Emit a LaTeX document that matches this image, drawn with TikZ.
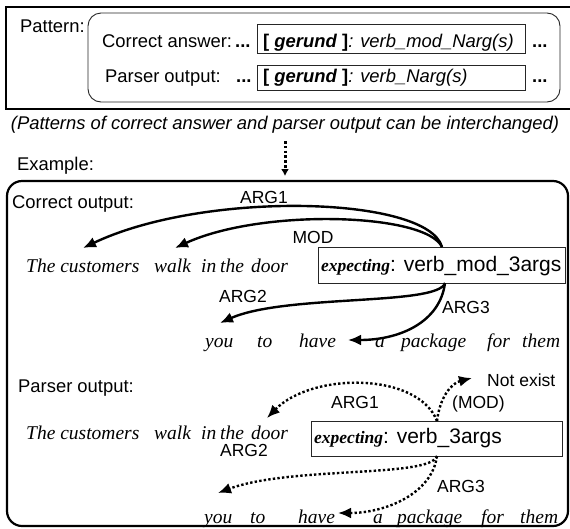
\documentclass[tikz,border=0pt]{standalone}
\usepackage{fontspec}
\setmainfont{Liberation Serif}
\setsansfont{Liberation Sans}
\usetikzlibrary{arrows.meta}
\begin{document}
\begin{tikzpicture}[x=1pt,y=-1pt,
  sf/.style={font=\fontsize{18.4}{20}\selectfont\sffamily, inner sep=0pt, anchor=base west},
  lbl/.style={font=\fontsize{17.5}{20}\selectfont\sffamily, inner sep=0pt, anchor=base},
  wd/.style={font=\fontsize{19.5}{22}\selectfont\itshape, inner sep=0pt, anchor=base west},
  thinbox/.style={draw=black!85, line width=0.9pt, inner sep=0pt, anchor=north west},
  heavy/.style={draw=black, line width=2pt},
  arr/.style={line width=2.4pt, -{Latex[length=13pt,width=11pt]}},
  darr/.style={arr, dash pattern=on 2.4pt off 2.2pt},
]
\useasboundingbox (0,0) rectangle (570,528);

% ---------- Pattern box ----------
\draw[heavy] (571,7) -- (6,7) -- (6,109) -- (571,109);
\draw[draw=black!85, line width=0.9pt, rounded corners=13pt] (88,13) rectangle (560,102);
\node[sf] (pat) at (20,32) {Pattern:};
\node[sf] (ca) at (102,47) {Correct answer:};
\node[sf] (po) at (105,82) {Parser output:};
\node[sf] (d1) at (235,47) {\textbf{...}};
\node[sf] (d2) at (236,82) {\textbf{...}};
\node[sf] (d3) at (532,47) {\textbf{...}};
\node[sf] (d4) at (532,82) {\textbf{...}};
\node[thinbox, minimum width=268pt, minimum height=29pt] (pb1) at (257,24) {};
\node[thinbox, minimum width=268pt, minimum height=25pt] (pb2) at (257,65) {};
\node[sf] (pt1) at (263,47) {\textbf{[ \textit{gerund} ]}\textit{: verb\_mod\_Narg(s)}};
\node[sf] (pt2) at (263,82) {\textbf{[ \textit{gerund} ]}\textit{: verb\_Narg(s)}};

% ---------- note and connector ----------
\node[sf, anchor=base] (note) at (285,129) {\textit{(Patterns of correct answer and parser output can be interchanged)}};
\coordinate (dtop) at (285,141);
\coordinate (dbot) at (285,176);
\draw[line width=3pt, dash pattern=on 2.6pt off 2.2pt, -{Latex[length=7pt,width=8pt]}] (dtop) -- (dbot);
\node[sf] (ex) at (17,170) {Example:};

% ---------- Example box ----------
\draw[draw=black, line width=2.2pt, rounded corners=15pt] (7,181) rectangle (568,526);

% Correct output
\node[sf] (cout) at (12,208) {Correct output:};
\node[wd] (c1) at (26,272) {The customers};
\node[wd] (c2) at (154,272) {walk};
\node[wd] (c3) at (201,272) {in};
\node[wd] (c4) at (220,272) {the};
\node[wd] (c4b) at (251,272) {door};
\node[thinbox, minimum width=247pt, minimum height=36pt] (cbox) at (318,247) {};
\node[sf] (ctext) at (321,271) {\fontsize{17.5}{20}\selectfont\rmfamily\bfseries\itshape expecting\fontsize{21}{22}\selectfont\sffamily\mdseries\upshape: verb\_mod\_3args};
\node[wd] (c5) at (205,347) {you};
\node[wd] (c6) at (257,347) {to};
\node[wd] (c7) at (299,347) {have};
\node[wd] (c8) at (375,347) {a};
\node[wd] (c9) at (401,347) {package};
\node[wd] (c10) at (487,347) {for};
\node[wd] (c11) at (522,347) {them};

\node[lbl] (la1) at (264,203) {ARG1};
\node[lbl] (lm) at (313,243) {MOD};
\node[lbl] (la2) at (243,302) {ARG2};
\node[lbl] (la3) at (466,313) {ARG3};

\coordinate (co) at (442,247);
\coordinate (cu) at (445,283);
\coordinate (tA1) at (83,248);
\coordinate (tM) at (175,248);
\coordinate (tA2) at (220,323);
\coordinate (tA3) at (348,340);
\draw[arr] (co) .. controls (428,196) and (205,190) .. (tA1);
\draw[arr] (co) .. controls (426,213) and (262,208) .. (tM);
\draw[arr] (cu) .. controls (438,306) and (285,294) .. (tA2);
\draw[arr] (cu) .. controls (440,322) and (400,340) .. (tA3);

% Parser output
\node[sf] (pout) at (18,392) {Parser output:};
\node[wd] (p1) at (26,439) {The customers};
\node[wd] (p2) at (154,439) {walk};
\node[wd] (p3) at (201,439) {in};
\node[wd] (p4) at (220,439) {the};
\node[wd] (p4b) at (251,439) {door};
\node[thinbox, minimum width=251pt, minimum height=35pt] (pbox) at (311,421) {};
\node[sf] (ptext) at (314,443) {\fontsize{17.5}{20}\selectfont\rmfamily\bfseries\itshape expecting\fontsize{21}{22}\selectfont\sffamily\mdseries\upshape: verb\_3args};
\node[wd] (p5) at (204,523) {you};
\node[wd] (p6) at (250,523) {to};
\node[wd] (p7) at (298,523) {have};
\node[wd] (p8) at (373,523) {a};
\node[wd] (p9) at (397,523) {package};
\node[wd] (p10) at (481,523) {for};
\node[wd] (p11) at (520,523) {them};

\node[lbl] (qa1) at (355,408) {ARG1};
\node[lbl, anchor=base west] (qne) at (487,386) {Not exist};
\node[lbl, anchor=base west] (qmod) at (452,408) {(MOD)};
\node[lbl] (qa2) at (244,456) {ARG2};
\node[lbl] (qa3) at (461,492) {ARG3};

\coordinate (po1) at (437,421);
\coordinate (pu1) at (437,456);
\coordinate (tNE) at (472,378);
\coordinate (qA1) at (267,418);
\coordinate (qA2) at (218,493);
\coordinate (qA3) at (338,513);
\draw[darr] (po1) .. controls (440,396) and (452,383) .. (tNE);
\draw[darr] (po1) .. controls (418,372) and (312,372) .. (qA1);
\draw[darr] (pu1) .. controls (430,478) and (290,466) .. (qA2);
\draw[darr] (pu1) .. controls (432,494) and (385,513) .. (qA3);
\end{tikzpicture}
\end{document}
